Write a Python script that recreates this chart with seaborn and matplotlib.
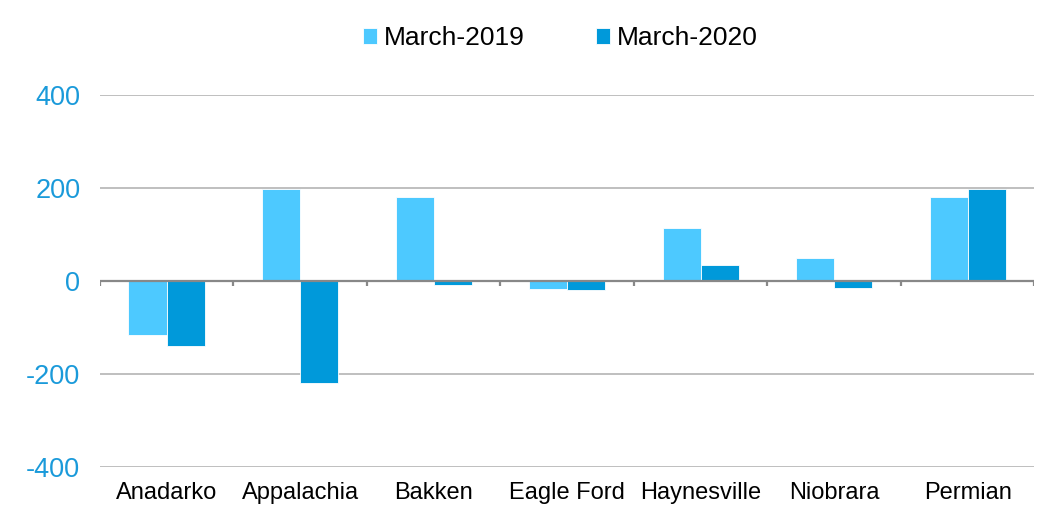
import pandas as pd
import matplotlib.pyplot as plt
import seaborn as sns

basins = ["Anadarko", "Appalachia", "Bakken", "Eagle Ford", "Haynesville", "Niobrara", "Permian"]
march_2019 = [-115, 198, 180, -18, 113, 50, 180]
march_2020 = [-139, -220, -8, -20, 34, -16, 198]
series = ["March-2019", "March-2020"]
colors = ["#4DC9FF", "#0099DA"]

df = pd.DataFrame({
    "basin": basins * 2,
    "value": march_2019 + march_2020,
    "series": [series[0]] * len(basins) + [series[1]] * len(basins),
})

sns.set_style("white")
plt.rcParams["font.family"] = ["Liberation Sans", "DejaVu Sans"]
plt.rcParams["axes.unicode_minus"] = False

fig = plt.figure(figsize=(10.61, 5.14), dpi=100)
ax = fig.add_axes([0.094, 0.0914, 0.881, 0.7237])

sns.barplot(data=df, x="basin", y="value", hue="series", order=basins,
            hue_order=series, palette=colors, width=0.57, gap=0,
            saturation=1, edgecolor="white", linewidth=0.6, ax=ax)

ax.set_ylim(-400, 400)
ax.set_xlim(-0.5, len(basins) - 0.5)
ax.set_yticks([-400, -200, 0, 200, 400])
ax.yaxis.grid(True, color="#BFBFBF", linewidth=1.4)
ax.set_axisbelow(True)
for s in ax.spines.values():
    s.set_visible(False)

# category axis drawn on the zero line, with tick marks between categories
ax.axhline(0, color="#888888", linewidth=1.6, zorder=3)
bounds = [i - 0.5 for i in range(len(basins) + 1)]
ax.vlines(bounds, -11, 0, color="#888888", linewidth=1.6, zorder=3)

ax.tick_params(axis="x", length=0, labelsize=17, labelcolor="black", pad=11)
ax.tick_params(axis="y", length=0, labelsize=19.5, labelcolor="#1A9ADA", pad=14)
ax.set_xlabel("")
ax.set_ylabel("")

ax.get_legend().remove()
handles, labels = ax.get_legend_handles_labels()
leg = fig.legend(handles, labels, loc="center", bbox_to_anchor=(0.528, 1 - 38 / 514),
                 ncol=2, frameon=False, fontsize=19, handlelength=0.55, handleheight=0.55,
                 handletextpad=0.25, columnspacing=2.7)
for t in leg.get_texts():
    t.set_color("black")

fig.savefig("out.png", dpi=100)
